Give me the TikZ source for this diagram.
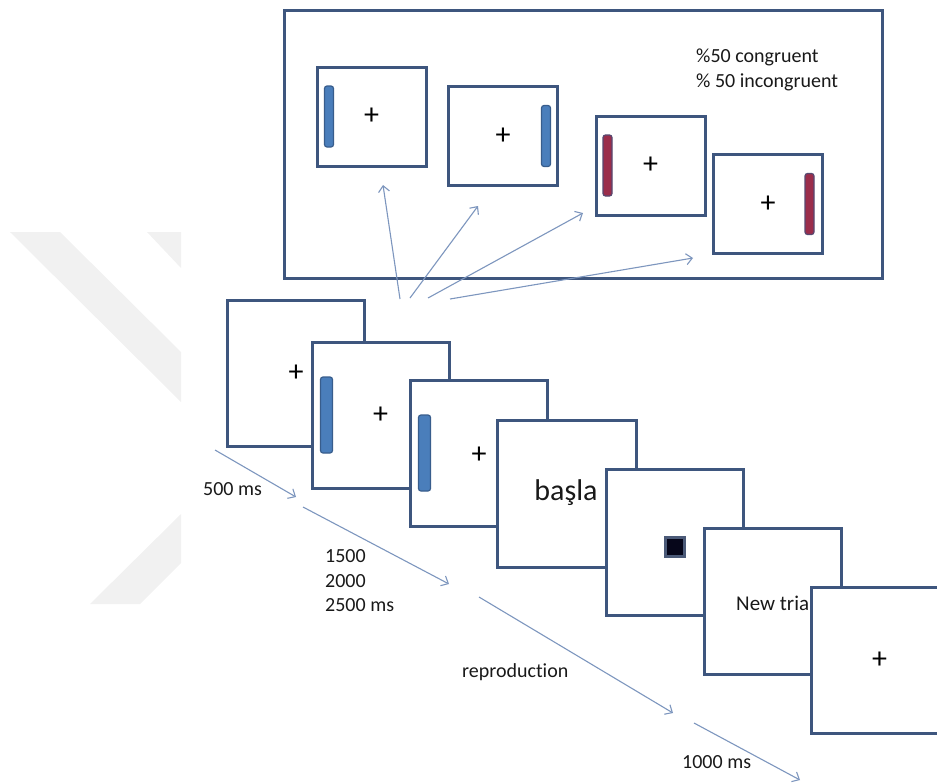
\documentclass[tikz,border=0pt]{standalone}
\usepackage{fontspec}
\setmainfont{Carlito}[Ligatures={NoCommon,NoRare}]
\usetikzlibrary{arrows.meta}
\definecolor{framec}{RGB}{62,86,126}
\definecolor{arrowc}{RGB}{125,150,190}
\definecolor{bluefill}{RGB}{74,126,187}
\definecolor{blueedge}{RGB}{56,93,140}
\definecolor{redfill}{RGB}{155,45,75}
\definecolor{rededge}{RGB}{88,72,112}
\definecolor{wm}{RGB}{241,241,241}
\definecolor{sqedge}{RGB}{75,90,120}
\definecolor{sqfill}{RGB}{6,6,26}
\definecolor{txt}{RGB}{25,25,25}
\begin{document}
\begin{tikzpicture}[x=1pt,y=-1pt,
 frame/.style={draw=framec,line width=3pt,fill=white,rectangle,inner sep=0pt},
 small/.style={frame,minimum width=109pt,minimum height=99pt},
 big/.style={frame,minimum width=137pt,minimum height=146pt},
 bar/.style={rectangle,rounded corners=2.5pt,line width=1.2pt,inner sep=0pt},
 sbar/.style={bar,minimum width=9pt,minimum height=61pt},
 bbar/.style={bar,minimum width=12pt,minimum height=76pt},
 bluebar/.style={fill=bluefill,draw=blueedge},
 redbar/.style={fill=redfill,draw=rededge},
 cross/.style={font=\fontsize{30}{30}\selectfont,inner sep=0pt,text=black},
 lbl/.style={font=\fontsize{20}{24.5}\selectfont,text=txt,inner sep=0pt,anchor=west,align=left},
 tline/.style={draw=arrowc,line width=1.1pt,-{Straight Barb[length=6pt,width=11pt]}},
]
\useasboundingbox (0,0) rectangle (937,782);
\clip (0,0) rectangle (937,782);

% watermark
\fill[wm] (10,232) -- (60,232) -- (181,352) -- (181,402) -- cycle;
\fill[wm] (147,232) -- (181,232) -- (181,268) -- cycle;
\fill[wm] (90,604) -- (140,604) -- (181,563) -- (181,514) -- cycle;

% top box
\node[frame,minimum width=598pt,minimum height=268pt] (top) at (583,144) {};
\node[lbl] (pct) at (696,70) {\%50 congruent\\\% 50 incongruent};

\node[small] (a1) at (371.5,116.5) {};
\node[sbar,bluebar] (a1bar) at ([xshift=13.5pt]a1.west) {};
\node[cross] (a1c) at (a1) {+};

\node[small] (a2) at (503,136) {};
\node[sbar,bluebar] (a2bar) at ([xshift=-13pt]a2.east) {};
\node[cross] (a2c) at (a2) {+};

\node[small] (a3) at (650.5,165.5) {};
\node[sbar,redbar] (a3bar) at ([xshift=13pt]a3.west) {};
\node[cross] (a3c) at (a3) {+};

\node[small] (a4) at (768,204) {};
\node[sbar,redbar] (a4bar) at ([xshift=-14.5pt]a4.east) {};
\node[cross] (a4c) at (a4) {+};

% arrows to the four stimulus types
\coordinate (s1) at (400,299); \coordinate (t1) at (383,185);
\coordinate (s2) at (410,298); \coordinate (t2) at (478,206);
\coordinate (s3) at (428,298); \coordinate (t3) at (583,213);
\coordinate (s4) at (450,299); \coordinate (t4) at (693,258);
\draw[tline] (s1) -- (t1);
\draw[tline] (s2) -- (t2);
\draw[tline] (s3) -- (t3);
\draw[tline] (s4) -- (t4);

% trial sequence
\node[big] (b1) at (296,373) {};
\node[cross] (b1c) at (b1) {+};

\node[big] (b2) at (380.5,415) {};
\node[bbar,bluebar] (b2bar) at ([xshift=16pt]b2.west) {};
\node[cross] (b2c) at (b2) {+};

\node[big] (b3) at (479,453) {};
\node[bbar,bluebar] (b3bar) at ([xshift=15.5pt]b3.west) {};
\node[cross] (b3c) at ([yshift=-2pt]b3) {+};

\node[big,minimum width=139pt,minimum height=147pt] (b4) at (566.5,493.5) {};
\node[font=\fontsize{30}{30}\selectfont,text=txt,inner sep=0pt] (basla) at (566,493) {başla};

\node[big] (b5) at (674.5,542.5) {};
\node[rectangle,draw=sqedge,fill=sqfill,line width=3pt,minimum size=19pt,inner sep=0pt] (sq) at (675,547) {};

\node[big] (b6) at (772.5,601.5) {};
\node[lbl,font=\fontsize{21}{24}\selectfont] (nt) at (736,603) {New trial};

\node[big] (b7) at (879.5,660) {};
\node[cross] (b7c) at (b7) {+};

% timeline
\coordinate (u1) at (215,450); \coordinate (v1) at (296,497);
\coordinate (u2) at (303,507); \coordinate (v2) at (449,584);
\coordinate (u3) at (479,597); \coordinate (v3) at (673,713);
\coordinate (u4) at (694,723); \coordinate (v4) at (800,780);
\draw[tline] (u1) -- (v1);
\draw[tline] (u2) -- (v2);
\draw[tline] (u3) -- (v3);
\draw[tline] (u4) -- (v4);

\node[lbl] (l500) at (203,489) {500 ms};
\node[lbl] (l1500) at (325,581) {1500\\2000\\2500 ms};
\node[lbl] (lrep) at (462,672) {reproduction};
\node[lbl] (l1000) at (682,762) {1000 ms};
\end{tikzpicture}
\end{document}
